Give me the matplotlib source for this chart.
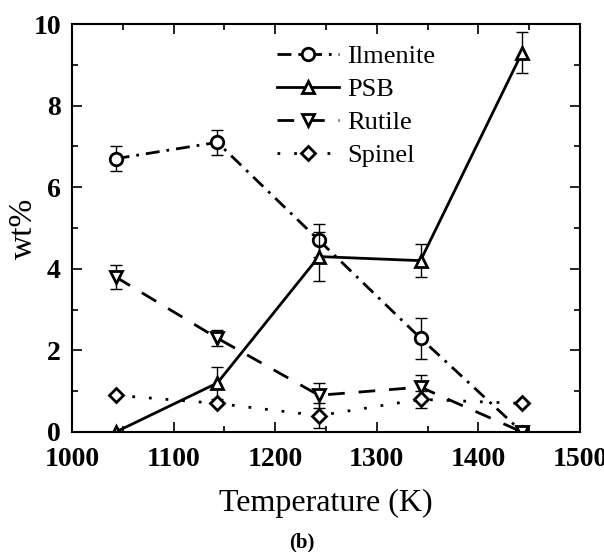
import matplotlib
matplotlib.use('Agg')
import matplotlib.pyplot as plt
from matplotlib.ticker import MultipleLocator

plt.rcParams['font.family'] = ['Liberation Serif', 'DejaVu Serif']

# temperatures (K)
temps = [1043, 1143, 1243, 1343, 1443]

ilmenite = [6.7, 7.1, 4.7, 2.3, 0.0]
ilmenite_err = [0.3, 0.3, 0.4, 0.5, 0.0]
psb = [0.0, 1.2, 4.3, 4.2, 9.3]
psb_err = [0.0, 0.4, 0.6, 0.4, 0.5]
rutile = [3.8, 2.3, 0.9, 1.1, 0.0]
rutile_err = [0.3, 0.2, 0.3, 0.3, 0.0]
spinel = [0.9, 0.7, 0.4, 0.8, 0.7]
spinel_err = [0.0, 0.0, 0.3, 0.2, 0.0]

fig = plt.figure(figsize=(6.04, 5.52), dpi=100)
ax = fig.add_axes([0.1192, 0.2174, 0.8411, 0.7391])

series = [
    ('Ilmenite', ilmenite, ilmenite_err, 'o', 9, (0, (5, 2.5, 1, 2.5))),
    ('PSB', psb, psb_err, '^', 9, '-'),
    ('Rutile', rutile, rutile_err, 'v', 9, (0, (6, 5))),
    ('Spinel', spinel, spinel_err, 'D', 7, (0, (1, 5))),
]

for name, vals, err, mk, ms, ls in series:
    ax.errorbar(temps, vals, yerr=err, fmt='none', ecolor='black',
                elinewidth=1.0, capsize=4, capthick=1.0)
    ax.plot(temps, vals, color='black', linestyle=ls, linewidth=2,
            marker=mk, markersize=ms, markerfacecolor='white',
            markeredgecolor='black', markeredgewidth=2, label=name)

ax.set_xlim(1000, 1500)
ax.set_ylim(0, 10)
ax.xaxis.set_major_locator(MultipleLocator(100))
ax.xaxis.set_minor_locator(MultipleLocator(50))
ax.yaxis.set_major_locator(MultipleLocator(2))
ax.yaxis.set_minor_locator(MultipleLocator(1))
ax.tick_params(which='both', direction='in', top=True, right=True, width=1.2)
ax.tick_params(which='major', length=7, labelsize=20)
ax.tick_params(axis='x', which='major', pad=11)
ax.tick_params(axis='y', which='major', pad=8)
ax.tick_params(which='minor', length=4)
for lab in ax.get_xticklabels() + ax.get_yticklabels():
    lab.set_fontweight('bold')
for sp in ax.spines.values():
    sp.set_linewidth(1.5)

ax.set_xlabel('Temperature (K)', fontsize=23, labelpad=12)
ax.set_ylabel('wt%', fontsize=24, va='center')
ax.yaxis.set_label_coords(-0.096, 0.5)

ax.legend(loc='upper left', bbox_to_anchor=(0.383, 0.975), frameon=False,
          fontsize=19, handlelength=2.35, handletextpad=0.3,
          labelspacing=0.36, borderaxespad=0)

fig.text(0.5, 0.018, '(b)', ha='center', va='center', fontsize=15,
         fontweight='bold')

fig.savefig('out.png', dpi=100)
